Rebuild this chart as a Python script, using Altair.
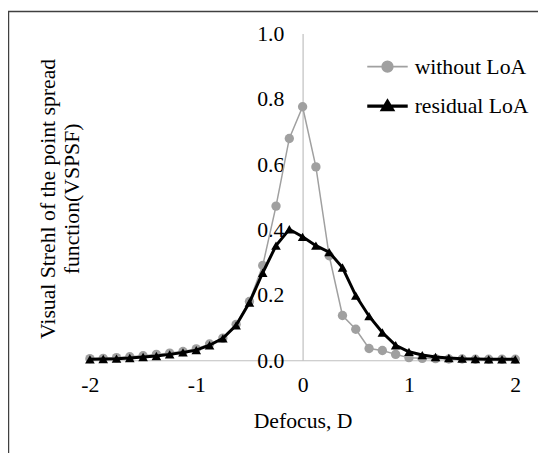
import altair as alt
import pandas as pd

# ---- data ----
defocus = [-2.0, -1.875, -1.75, -1.625, -1.5, -1.375, -1.25, -1.125, -1.0,
           -0.875, -0.75, -0.625, -0.5, -0.375, -0.25, -0.125, 0.0,
           0.125, 0.25, 0.375, 0.5, 0.625, 0.75, 0.875, 1.0,
           1.125, 1.25, 1.375, 1.5, 1.625, 1.75, 1.875, 2.0]

without_loa = [0.005, 0.006, 0.008, 0.011, 0.014, 0.018, 0.022, 0.027, 0.035,
               0.050, 0.068, 0.110, 0.180, 0.290, 0.472, 0.679, 0.776,
               0.592, 0.320, 0.137, 0.095, 0.036, 0.030, 0.018, 0.008,
               0.006, 0.005, 0.004, 0.004, 0.003, 0.003, 0.003, 0.003]

residual_loa = [0.003, 0.004, 0.005, 0.007, 0.010, 0.013, 0.018, 0.024, 0.031,
                0.046, 0.067, 0.107, 0.177, 0.268, 0.351, 0.401, 0.378,
                0.351, 0.331, 0.284, 0.198, 0.135, 0.085, 0.046, 0.026,
                0.016, 0.010, 0.007, 0.005, 0.004, 0.003, 0.003, 0.003]

series_names = ["without LoA", "residual LoA"]
series_colors = ["#a0a0a0", "#000000"]
x_ticks = [-2, -1, 0, 1, 2]
y_ticks = [0.0, 0.2, 0.4, 0.6, 0.8, 1.0]
y_title = "Visual Strehl of the point spread\nfunction(VSPSF)"
x_title = "Defocus, D"

rows = []
for name, vals in zip(series_names, [without_loa, residual_loa]):
    for xv, yv in zip(defocus, vals):
        rows.append({"defocus": xv, "vspsf": yv, "series": name})
df = pd.DataFrame(rows)

FONT = "Liberation Serif"
FS = 22
W, H = 431, 331

x_enc = alt.X("defocus:Q",
              scale=alt.Scale(domain=[-2, 2], nice=False, zero=False),
              axis=alt.Axis(values=x_ticks, labelExpr="toString(datum.value)", grid=False,
                            ticks=False, tickSize=0, labelFlush=False,
                            domainColor="#bfbfbf", domainWidth=1.2,
                            labelFont=FONT, labelFontSize=FS, labelColor="#000000",
                            labelPadding=15, title=x_title, titleFont=FONT,
                            titleFontSize=FS, titleFontWeight="normal",
                            titleColor="#000000", titlePadding=15))
y_enc = alt.Y("vspsf:Q",
              scale=alt.Scale(domain=[0, 1], nice=False),
              axis=alt.Axis(values=y_ticks, format=".1f", grid=False, ticks=False, tickSize=0,
                            labelFlush=False,
                            domainColor="#bfbfbf", domainWidth=1.2,
                            offset=-215.5, labelFont=FONT, labelFontSize=FS,
                            labelColor="#000000", labelPadding=19, title=None))

base = alt.Chart(df).encode(x=x_enc, y=y_enc)

gray = base.transform_filter(alt.datum.series == series_names[0])
black = base.transform_filter(alt.datum.series == series_names[1])

gray_line = gray.mark_line(color=series_colors[0], strokeWidth=1.5)
gray_pts = gray.mark_point(filled=True, shape="circle", size=90, color=series_colors[0], opacity=1)
black_line = black.mark_line(color=series_colors[1], strokeWidth=3)
black_pts = black.mark_point(filled=True, shape="triangle-up", size=95, color=series_colors[1], opacity=1)

circle_path = "M-1,0L1,0M-0.26,0A0.26,0.26,0,1,0,0.26,0A0.26,0.26,0,1,0,-0.26,0Z"
tri_path = "M-1,0L1,0M0,-0.24L0.25,0.18L-0.25,0.18Z"

leg = alt.Legend(title=None, orient="none", legendX=279, legendY=12,
                 labelFont=FONT, labelFontSize=FS, labelColor="#000000",
                 symbolSize=1681, rowPadding=6, padding=0, labelOffset=5)
legend_layer = base.transform_filter("false").mark_point(filled=True, opacity=1).encode(
    fill=alt.Fill("series:N", scale=alt.Scale(domain=series_names, range=series_colors), legend=leg),
    stroke=alt.Stroke("series:N", scale=alt.Scale(domain=series_names, range=series_colors), legend=leg),
    shape=alt.Shape("series:N", scale=alt.Scale(domain=series_names, range=[circle_path, tri_path]), legend=leg),
    strokeWidth=alt.StrokeWidth("series:N", scale=alt.Scale(domain=series_names, range=[1.8, 3.2]), legend=leg),
)

ytitle = alt.Chart(alt.Data(values=[{"t": y_title}])).mark_text(
    lineBreak="\n", angle=270, align="center", baseline="alphabetic", lineHeight=24,
    font=FONT, fontSize=FS, color="#000000"
).encode(x=alt.value(-35.5), y=alt.value(167.5), text="t:N")

frame_left = alt.Chart(alt.Data(values=[{"a": 1}])).mark_rule(color="#404040", strokeWidth=1.5).encode(
    x=alt.value(-82.5), y=alt.value(-23), y2=alt.value(600))
frame_top = alt.Chart(alt.Data(values=[{"a": 1}])).mark_rule(color="#404040", strokeWidth=1.5).encode(
    y=alt.value(-22.5), x=alt.value(-83), x2=alt.value(700))

chart = alt.layer(frame_left, frame_top, ytitle, gray_line, gray_pts, black_line, black_pts, legend_layer).properties(
    width=W, height=H,
    autosize=alt.AutoSizeParams(type="none"),
    padding={"left": 83, "top": 23, "right": 23, "bottom": 91},
    background="white",
).configure_view(stroke=None)

chart.save("out.html", embed_options={"renderer": "svg", "actions": False})
